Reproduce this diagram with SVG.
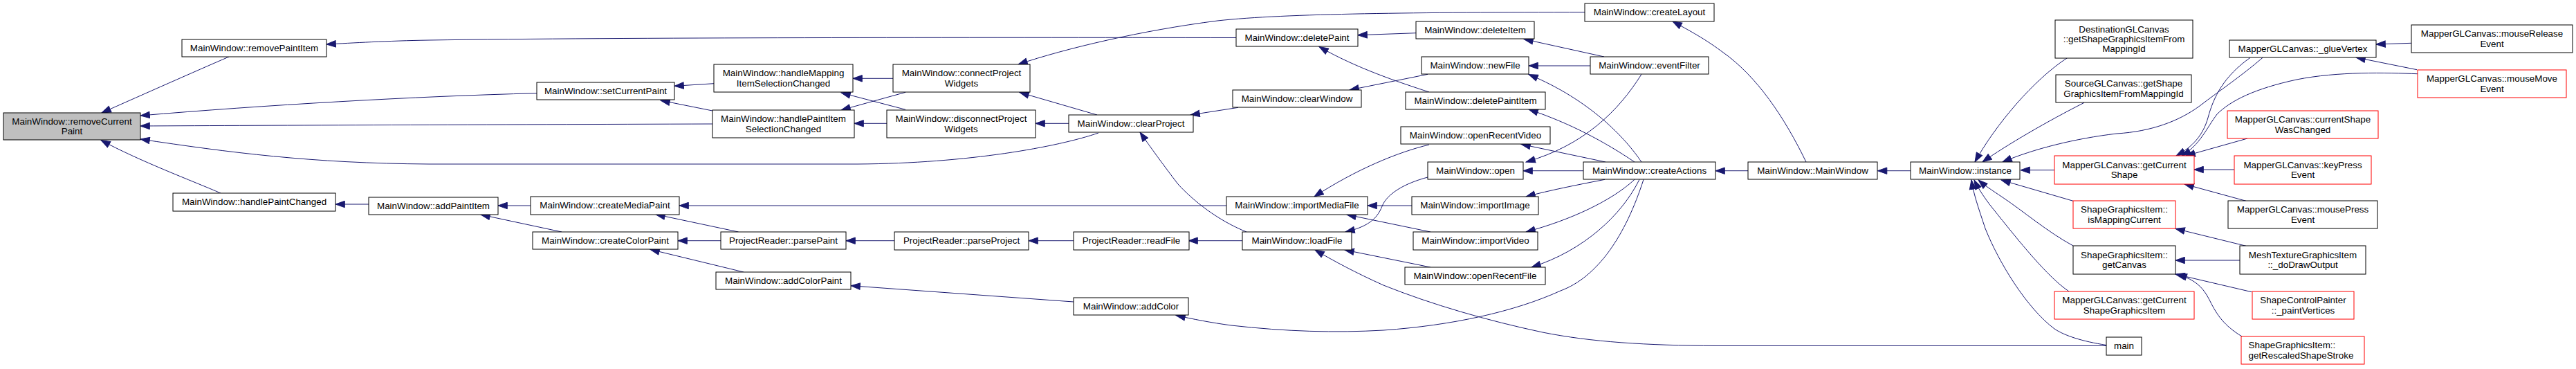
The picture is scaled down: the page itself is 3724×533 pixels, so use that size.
<svg xmlns="http://www.w3.org/2000/svg" width="3724" height="533" viewBox="0 0 3724 533">
<style>
.n rect{fill:#fff;stroke:#000;stroke-width:1}
.g rect{fill:#bfbfbf}
.r rect{stroke:#f00}
text{font-family:"Liberation Sans",Arial,Helvetica,sans-serif;font-size:13.4px;text-anchor:middle;fill:#000}
.l text{text-anchor:start}
#edges path{fill:none;stroke:#191970;stroke-width:1;marker-end:url(#a)}
</style>
<defs>
<marker id="a" markerUnits="userSpaceOnUse" markerWidth="15" markerHeight="11" viewBox="0 0 15 11" refX="14" refY="5.5" orient="auto">
<path d="M0.7,0.8 L14,5.5 L0.7,10.2 z" fill="#191970" stroke="#191970" stroke-width="1"/>
</marker>
</defs>
<rect width="3724" height="533" fill="#fff"/>
<g id="edges">
<path d="M331,82 C280,104 210,135 147,163"/>
<path d="M1787,54.5 C1400,54 900,54 620,58 C560,59 510,62 472,64"/>
<path d="M776,134.7 C600,139 380,152 203,167"/>
<path d="M1030,179 C700,180 400,181 203,182"/>
<path d="M1588,192 C1530,212 1400,236 1240,237 L620,237 C450,236 330,220 203,201"/>
<path d="M319,279 C280,262 200,232 146,202.5"/>
<path d="M1032,120.7 L975,124.3"/>
<path d="M1030,160 L955,145"/>
<path d="M1291,113.3 L1233,113.3"/>
<path d="M1309,158.3 L1216,134"/>
<path d="M1309,133.3 L1216,159"/>
<path d="M1282,178.3 L1235,178.3"/>
<path d="M2291,17.5 C2050,18 1860,19 1760,30 C1650,44 1540,70 1472,93"/>
<path d="M1586,166 L1474,133.5"/>
<path d="M1545,178.3 L1497,178.3"/>
<path d="M1790,155.3 L1721,166"/>
<path d="M1802,335 C1760,318 1725,290 1703,266 C1680,236 1665,215 1648,191"/>
<path d="M2064,107.3 L1951,130"/>
<path d="M2047,47.7 L1963,50.7"/>
<path d="M2066,133 C2020,118 1960,98 1907,67.5"/>
<path d="M2319,82 L2203,56.5"/>
<path d="M2299,95 L2210,95"/>
<path d="M2373,234 C2350,200 2300,145 2210,107.5"/>
<path d="M2363,234 C2320,205 2270,178 2210,158"/>
<path d="M2321,234 L2199,208.3"/>
<path d="M2289,246.7 L2202,246.7"/>
<path d="M2373,107.3 C2340,160 2290,210 2206,234"/>
<path d="M2320,259.3 C2280,267 2240,275 2206,284"/>
<path d="M2363,259.3 C2330,290 2270,318 2206,335"/>
<path d="M2370,259.3 C2345,310 2290,362 2214,386"/>
<path d="M2376,259.3 C2350,340 2310,400 2256,420 C2190,450 2100,470 2000,477 C1930,481 1860,479 1780,470 C1750,466 1725,461 1700,455.5"/>
<path d="M3045,499.5 L2481,499.5 C2380,499 2300,494 2230,480 C2150,463 2070,440 2000,412 C1960,394 1930,378 1901,361"/>
<path d="M3045,498.5 C3010,493 2985,485 2970,475 C2930,445 2890,380 2870,330 C2860,300 2853,280 2850,260"/>
<path d="M2991,421 C2960,400 2920,350 2880,300 C2868,285 2860,272 2854,260"/>
<path d="M2997,355 C2960,335 2925,305 2895,285 C2880,275 2868,267 2860,260"/>
<path d="M2997,290.3 L2893,260"/>
<path d="M2989,83.3 C2940,115 2885,180 2855,234"/>
<path d="M3013,148.3 C2960,175 2900,210 2866,234"/>
<path d="M3271,83.3 C3240,110 3210,130 3180,153 C3150,175 3110,190 3060,193 C3000,200 2940,215 2895,234"/>
<path d="M2970,245.7 L2921,245.7"/>
<path d="M3253,83.3 C3215,110 3200,140 3192,170 C3185,195 3170,212 3146,225"/>
<path d="M3495,106.7 C3450,105 3380,103 3320,115 C3260,128 3225,145 3205,165 C3190,185 3180,210 3154,225"/>
<path d="M3249,200 L3160,225"/>
<path d="M3230.5,245 L3172,245"/>
<path d="M3247,290.3 L3158,266"/>
<path d="M3486,62.3 L3435,64"/>
<path d="M3494,100.7 L3406,83"/>
<path d="M3247,355.3 L3145,330.3"/>
<path d="M3238,376 L3145,376"/>
<path d="M3255,421.7 L3145,396"/>
<path d="M3241,486 C3215,470 3205,455 3195,435 C3185,415 3175,405 3148,396"/>
<path d="M2762,246.7 L2714.5,246.7"/>
<path d="M2527,246.7 L2480,246.7"/>
<path d="M2611,234 C2580,170 2540,110 2490,75 C2470,60 2450,48 2418,31"/>
<path d="M1067.5,335 L948,309.7"/>
<path d="M1042,347.7 L980,347.7"/>
<path d="M1075,393 L940,360.3"/>
<path d="M767,297 L720,297"/>
<path d="M812,335 L695,310"/>
<path d="M533,295 L485,295"/>
<path d="M1773,297 L982,297"/>
<path d="M1293,347.7 L1223,347.7"/>
<path d="M1552,347.7 L1487,347.7"/>
<path d="M1796,347.7 L1718,347.7"/>
<path d="M1552,436 L1230,412.7"/>
<path d="M2041,297 L1977,297"/>
<path d="M2068,335 L1947,310"/>
<path d="M2068,386 L1944,361"/>
<path d="M2064,256 C2030,265 2005,280 1998,298 C1990,318 1975,328 1945,335"/>
<path d="M2066,209 C2020,220 1960,245 1900,284"/>
</g>
<g id="n1" class="n g"><rect x="5" y="163" width="198" height="39"/><text x="104" y="179.6">MainWindow::removeCurrent</text><text x="104" y="193.9">Paint</text></g>
<g id="n2" class="n"><rect x="263" y="57" width="209" height="25"/><text x="367.5" y="73.8">MainWindow::removePaintItem</text></g>
<g id="n3" class="n"><rect x="250" y="279" width="235" height="26"/><text x="367.5" y="296.3">MainWindow::handlePaintChanged</text></g>
<g id="n4" class="n"><rect x="533" y="285" width="187" height="25"/><text x="626.5" y="301.8">MainWindow::addPaintItem</text></g>
<g id="n5" class="n"><rect x="776" y="119" width="199" height="25"/><text x="875.5" y="135.8">MainWindow::setCurrentPaint</text></g>
<g id="n6" class="n"><rect x="1032" y="93" width="201" height="40"/><text x="1132.5" y="110.2">MainWindow::handleMapping</text><text x="1132.5" y="124.5">ItemSelectionChanged</text></g>
<g id="n7" class="n"><rect x="1030" y="159" width="205" height="40"/><text x="1132.5" y="176.2">MainWindow::handlePaintItem</text><text x="1132.5" y="190.5">SelectionChanged</text></g>
<g id="n8" class="n"><rect x="767" y="284" width="215" height="26"/><text x="874.5" y="301.3">MainWindow::createMediaPaint</text></g>
<g id="n9" class="n"><rect x="770" y="335" width="210" height="25"/><text x="875" y="351.8">MainWindow::createColorPaint</text></g>
<g id="n10" class="n"><rect x="1042" y="335" width="181" height="25"/><text x="1132.5" y="351.8">ProjectReader::parsePaint</text></g>
<g id="n11" class="n"><rect x="1035" y="393" width="195" height="25"/><text x="1132.5" y="409.8">MainWindow::addColorPaint</text></g>
<g id="n12" class="n"><rect x="1291" y="93" width="198" height="40"/><text x="1390" y="110.2">MainWindow::connectProject</text><text x="1390" y="124.5">Widgets</text></g>
<g id="n13" class="n"><rect x="1282" y="159" width="215" height="40"/><text x="1389.5" y="176.2">MainWindow::disconnectProject</text><text x="1389.5" y="190.5">Widgets</text></g>
<g id="n14" class="n"><rect x="1545" y="166" width="180" height="25"/><text x="1635" y="182.8">MainWindow::clearProject</text></g>
<g id="n15" class="n"><rect x="1787" y="42" width="176" height="25"/><text x="1875" y="58.8">MainWindow::deletePaint</text></g>
<g id="n16" class="n"><rect x="1782" y="130" width="186" height="25"/><text x="1875" y="146.8">MainWindow::clearWindow</text></g>
<g id="n17" class="n"><rect x="1293" y="335" width="194" height="26"/><text x="1390" y="352.3">ProjectReader::parseProject</text></g>
<g id="n18" class="n"><rect x="1552" y="335" width="167" height="26"/><text x="1635.5" y="352.3">ProjectReader::readFile</text></g>
<g id="n19" class="n"><rect x="1552" y="430" width="166" height="25"/><text x="1635" y="446.8">MainWindow::addColor</text></g>
<g id="n20" class="n"><rect x="1773" y="284" width="204" height="26"/><text x="1875" y="301.3">MainWindow::importMediaFile</text></g>
<g id="n21" class="n"><rect x="1796" y="335" width="158" height="26"/><text x="1875" y="352.3">MainWindow::loadFile</text></g>
<g id="n22" class="n"><rect x="2291" y="5" width="187" height="26"/><text x="2384.5" y="22.3">MainWindow::createLayout</text></g>
<g id="n23" class="n"><rect x="2047" y="31" width="171" height="25"/><text x="2132.5" y="47.8">MainWindow::deleteItem</text></g>
<g id="n24" class="n"><rect x="2055" y="82" width="155" height="25"/><text x="2132.5" y="98.8">MainWindow::newFile</text></g>
<g id="n25" class="n"><rect x="2299" y="82" width="171" height="25"/><text x="2384.5" y="98.8">MainWindow::eventFilter</text></g>
<g id="n26" class="n"><rect x="2032" y="133" width="202" height="25"/><text x="2133" y="149.8">MainWindow::deletePaintItem</text></g>
<g id="n27" class="n"><rect x="2025" y="183" width="216" height="25"/><text x="2133" y="199.8">MainWindow::openRecentVideo</text></g>
<g id="n28" class="n"><rect x="2064" y="234" width="138" height="25"/><text x="2133" y="250.8">MainWindow::open</text></g>
<g id="n29" class="n"><rect x="2289" y="234" width="191" height="25"/><text x="2384.5" y="250.8">MainWindow::createActions</text></g>
<g id="n30" class="n"><rect x="2041" y="284" width="183" height="26"/><text x="2132.5" y="301.3">MainWindow::importImage</text></g>
<g id="n31" class="n"><rect x="2043" y="335" width="180" height="26"/><text x="2133" y="352.3">MainWindow::importVideo</text></g>
<g id="n32" class="n"><rect x="2031" y="386" width="203" height="25"/><text x="2132.5" y="402.8">MainWindow::openRecentFile</text></g>
<g id="n33" class="n"><rect x="2527" y="234" width="187" height="25"/><text x="2620.5" y="250.8">MainWindow::MainWindow</text></g>
<g id="n34" class="n"><rect x="2762" y="234" width="158" height="25"/><text x="2841" y="250.8">MainWindow::instance</text></g>
<g id="n35" class="n"><rect x="2971" y="29" width="199" height="55"/><text x="3070.5" y="46.5">DestinationGLCanvas</text><text x="3070.5" y="60.8">::getShapeGraphicsItemFrom</text><text x="3070.5" y="75.1">MappingId</text></g>
<g id="n36" class="n"><rect x="2972" y="108" width="196" height="40"/><text x="3070" y="125.2">SourceGLCanvas::getShape</text><text x="3070" y="139.5">GraphicsItemFromMappingId</text></g>
<g id="n37" class="n r"><rect x="2970" y="225" width="202" height="41"/><text x="3071" y="242.7">MapperGLCanvas::getCurrent</text><text x="3071" y="257">Shape</text></g>
<g id="n38" class="n r"><rect x="2997" y="290" width="148" height="40"/><text x="3071" y="307.2">ShapeGraphicsItem::</text><text x="3071" y="321.5">isMappingCurrent</text></g>
<g id="n39" class="n"><rect x="2997" y="355" width="148" height="41"/><text x="3071" y="372.7">ShapeGraphicsItem::</text><text x="3071" y="387">getCanvas</text></g>
<g id="n40" class="n r"><rect x="2970" y="421" width="202" height="40"/><text x="3071" y="438.2">MapperGLCanvas::getCurrent</text><text x="3071" y="452.5">ShapeGraphicsItem</text></g>
<g id="n41" class="n"><rect x="3045" y="487" width="51" height="26"/><text x="3070.5" y="504.3">main</text></g>
<g id="n42" class="n"><rect x="3223" y="58" width="212" height="25"/><text x="3329" y="74.8">MapperGLCanvas::_glueVertex</text></g>
<g id="n43" class="n"><rect x="3486" y="36" width="233" height="40"/><text x="3602.5" y="53.2">MapperGLCanvas::mouseRelease</text><text x="3602.5" y="67.5">Event</text></g>
<g id="n44" class="n r"><rect x="3495" y="101" width="215" height="40"/><text x="3602.5" y="118.2">MapperGLCanvas::mouseMove</text><text x="3602.5" y="132.5">Event</text></g>
<g id="n45" class="n r"><rect x="3220" y="160" width="218" height="40"/><text x="3329" y="177.2">MapperGLCanvas::currentShape</text><text x="3329" y="191.5">WasChanged</text></g>
<g id="n46" class="n r"><rect x="3230" y="225" width="198" height="41"/><text x="3329" y="242.7">MapperGLCanvas::keyPress</text><text x="3329" y="257">Event</text></g>
<g id="n47" class="n"><rect x="3221" y="290" width="216" height="40"/><text x="3329" y="307.2">MapperGLCanvas::mousePress</text><text x="3329" y="321.5">Event</text></g>
<g id="n48" class="n"><rect x="3238" y="355" width="182" height="41"/><text x="3329" y="372.7">MeshTextureGraphicsItem</text><text x="3329" y="387">::_doDrawOutput</text></g>
<g id="n49" class="n r"><rect x="3256" y="421" width="147" height="40"/><text x="3329.5" y="438.2">ShapeControlPainter</text><text x="3329.5" y="452.5">::_paintVertices</text></g>
<g id="n50" class="n r l"><rect x="3240" y="486" width="178" height="40"/><text x="3250.5" y="503.2">ShapeGraphicsItem::</text><text x="3250.5" y="517.5">getRescaledShapeStroke</text></g>
</svg>
